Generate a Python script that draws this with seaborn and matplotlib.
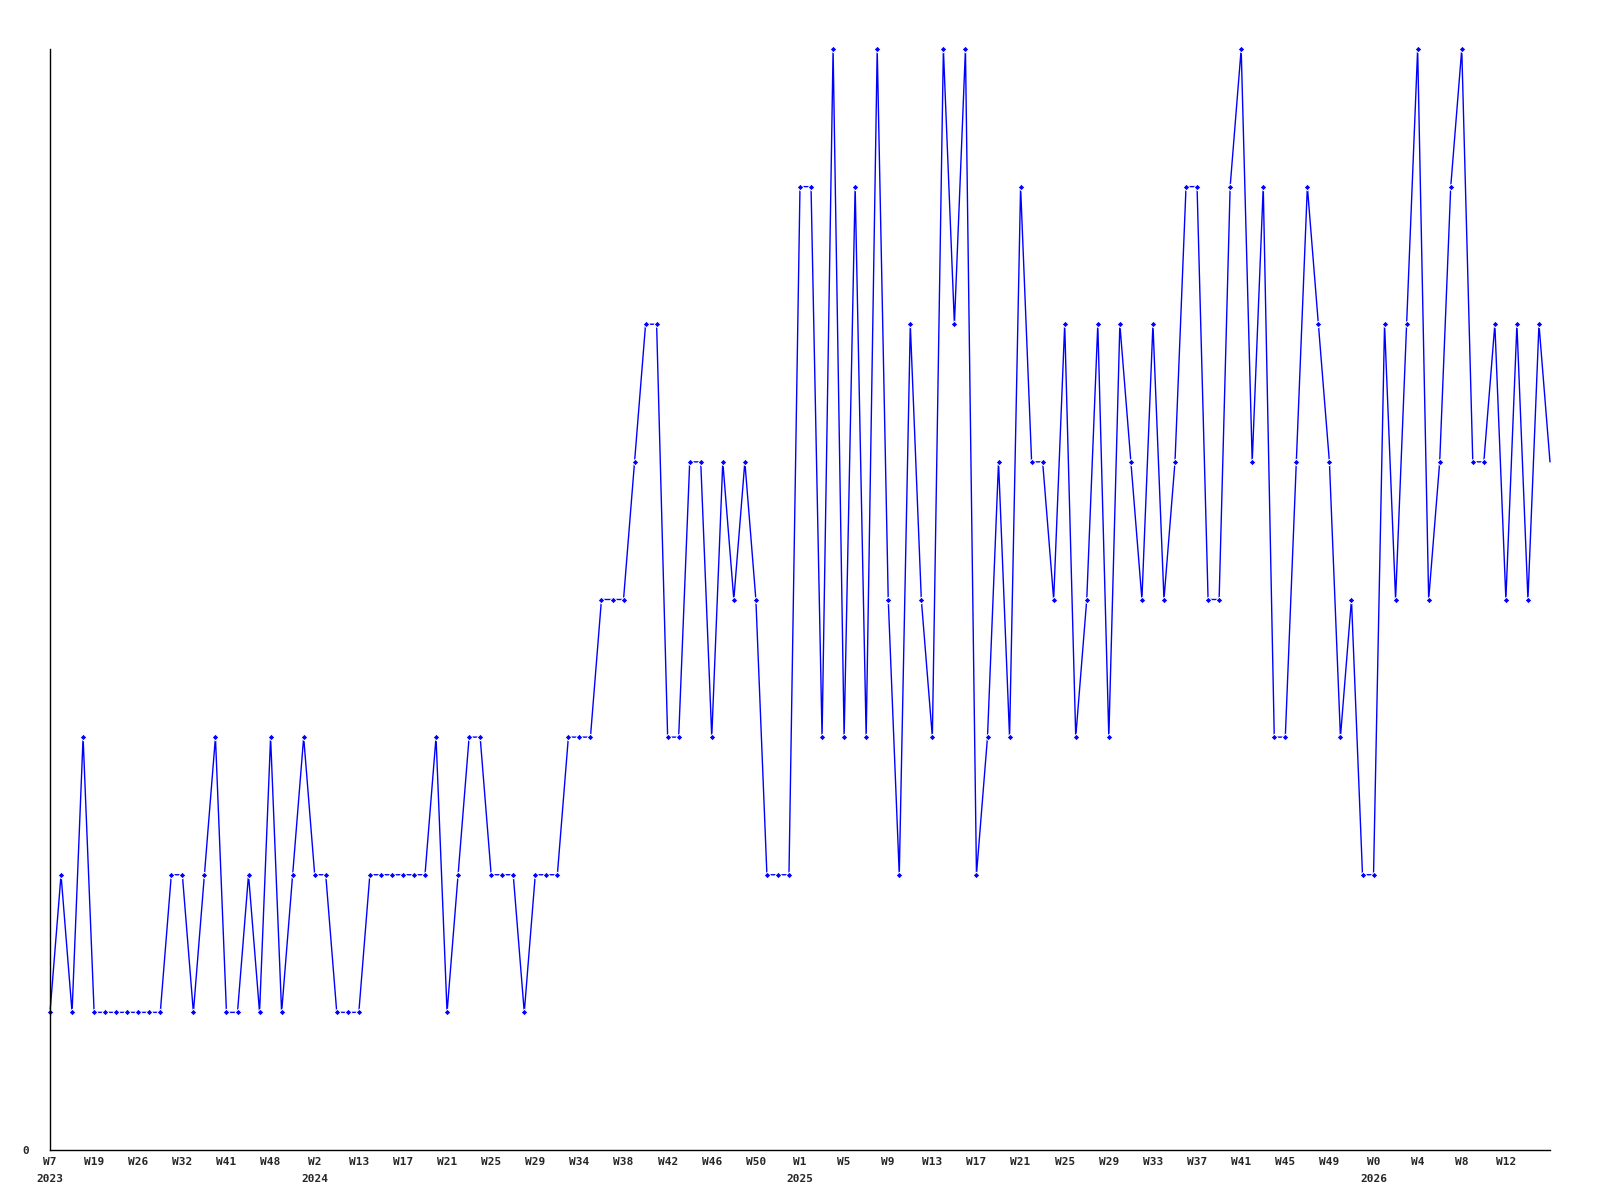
import numpy as np
import pandas as pd
import seaborn as sns
import matplotlib.pyplot as plt

# weekly counts
values = [1, 2, 1, 3, 1, 1, 1, 1, 1, 1, 1, 2, 2, 1, 2, 3, 1, 1, 2, 1,
          3, 1, 2, 3, 2, 2, 1, 1, 1, 2, 2, 2, 2, 2, 2, 3, 1, 2, 3, 3,
          2, 2, 2, 1, 2, 2, 2, 3, 3, 3, 4, 4, 4, 5, 6, 6, 3, 3, 5, 5,
          3, 5, 4, 5, 4, 2, 2, 2, 7, 7, 3, 8, 3, 7, 3, 8, 4, 2, 6, 4,
          3, 8, 6, 8, 2, 3, 5, 3, 7, 5, 5, 4, 6, 3, 4, 6, 3, 6, 5, 4,
          6, 4, 5, 7, 7, 4, 4, 7, 8, 5, 7, 3, 3, 5, 7, 6, 5, 3, 4, 2,
          2, 6, 4, 6, 8, 4, 5, 7, 8, 5, 5, 6, 4, 6, 4, 6, 5]

week_labels = ["W7", "W19", "W26", "W32", "W41", "W48", "W2", "W13", "W17",
               "W21", "W25", "W29", "W34", "W38", "W42", "W46", "W50", "W1",
               "W5", "W9", "W13", "W17", "W21", "W25", "W29", "W33", "W37",
               "W41", "W45", "W49", "W0", "W4", "W8", "W12"]
label_step = 4

year_labels = ["2023", "2024", "2025", "2026"]
year_pos = [0, 24, 68, 120]

df = pd.DataFrame({"idx": np.arange(len(values)), "count": values})

sns.set_style("white")
plt.rcParams['font.family'] = ['DejaVu Sans Mono', 'DejaVu Sans']

fig = plt.figure(figsize=(16, 12), dpi=100)
ax = fig.add_axes([50 / 1600, 50 / 1200, 1500 / 1600, 1101 / 1200])

sns.lineplot(data=df, x="idx", y="count", ax=ax, color="#0000ff",
             linewidth=1.0, marker="D", markersize=3.4, markeredgewidth=0.7,
             markevery=list(range(len(values) - 1)), clip_on=False)

ax.set_xlim(0, len(values) - 1)
ax.set_ylim(0, 8)

ax.spines["top"].set_visible(False)
ax.spines["right"].set_visible(False)
for s in ["left", "bottom"]:
    ax.spines[s].set_color("black")
    ax.spines[s].set_linewidth(1.0)

ax.set_yticks([0])
ax.set_yticklabels(["0"], fontsize=8, fontweight="bold")
ax.tick_params(axis="y", length=0, pad=15)

ax.set_xticks(np.arange(0, len(week_labels) * label_step, label_step))
ax.set_xticklabels(week_labels, fontsize=8, fontweight="bold")
ax.tick_params(axis="x", length=0, pad=5)

for lab, pos in zip(year_labels, year_pos):
    ax.text(pos, -0.026, lab, fontsize=8, fontweight="bold", ha="center",
            va="center", transform=ax.get_xaxis_transform())

ax.set_xlabel("")
ax.set_ylabel("")
ax.grid(False)

fig.savefig("out.png", dpi=100, facecolor="white")
